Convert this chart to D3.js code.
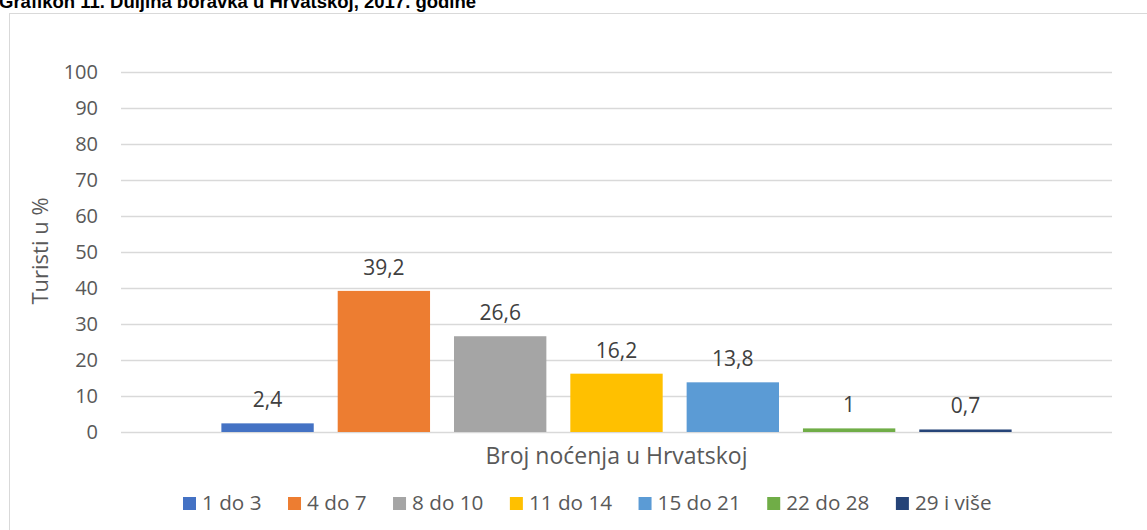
<!DOCTYPE html>
<html>
<head>
<meta charset="utf-8">
<script src="https://cdn.jsdelivr.net/npm/d3@7"></script>
<style>
  html, body { margin: 0; padding: 0; background: #fff; }
  svg { display: block; }
</style>
</head>
<body>
<svg id="chart" width="1147" height="530"></svg>
<script>
const titleText = "Grafikon 11. Duljina boravka u Hrvatskoj, 2017. godine";
const yAxisTitle = "Turisti u %";
const xAxisTitle = "Broj noćenja u Hrvatskoj";
const seriesNames = ["1 do 3", "4 do 7", "8 do 10", "11 do 14", "15 do 21", "22 do 28", "29 i više"];
const seriesValues = [2.4, 39.2, 26.6, 16.2, 13.8, 1, 0.7];
const seriesColors = ["#4472C4", "#ED7D31", "#A5A5A5", "#FFC000", "#5B9BD5", "#70AD47", "#264478"];
const yTicks = [0, 10, 20, 30, 40, 50, 60, 70, 80, 90, 100];

const svg = d3.select("#chart");
const FONT = "'Open Sans', sans-serif";
const plot = { left: 121, right: 1112, top: 72, bottom: 432 };

// chart border
svg.append("rect")
  .attr("x", 9.5).attr("y", 13.5)
  .attr("width", 1160).attr("height", 540)
  .attr("fill", "#fff").attr("stroke", "#d9d9d9").attr("stroke-width", 1);

// title (cut off at top, as in the source)
svg.append("text")
  .attr("x", -1).attr("y", 8)
  .attr("font-family", "'Liberation Sans', Arial, sans-serif")
  .attr("font-weight", "bold").attr("font-size", 18.5)
  .attr("fill", "#000")
  .text(titleText);

const y = d3.scaleLinear().domain([0, 100]).range([plot.bottom, plot.top]);
const x = d3.scaleBand().domain(seriesNames)
  .range([plot.left, plot.right])
  .paddingInner(0.206).paddingOuter(0.863);

// gridlines + tick labels
const yAxis = d3.axisLeft(y).tickValues(yTicks)
  .tickSize(-(plot.right - plot.left)).tickPadding(23)
  .tickFormat(d3.format("d"));
const gy = svg.append("g").attr("transform", `translate(${plot.left},0)`).call(yAxis);
gy.select(".domain").remove();
gy.selectAll(".tick line").attr("stroke", "#d9d9d9").attr("stroke-width", 1.4);
gy.selectAll(".tick text")
  .attr("font-family", FONT).attr("font-size", 20)
  .attr("fill", "#595959");

// bars
svg.append("g").selectAll("rect")
  .data(seriesNames)
  .join("rect")
  .attr("x", d => x(d))
  .attr("width", x.bandwidth())
  .attr("y", (d, i) => y(seriesValues[i]))
  .attr("height", (d, i) => y(0) - y(seriesValues[i]))
  .attr("fill", (d, i) => seriesColors[i]);

// data labels
svg.append("g").selectAll("text")
  .data(seriesNames)
  .join("text")
  .attr("x", d => x(d) + x.bandwidth() / 2)
  .attr("y", (d, i) => y(seriesValues[i]) - 16)
  .attr("text-anchor", "middle")
  .attr("font-family", FONT).attr("font-size", 21)
  .attr("fill", "#404040")
  .text((d, i) => String(seriesValues[i]).replace(".", ","));

// axis titles
svg.append("text")
  .attr("x", (plot.left + plot.right) / 2).attr("y", 464)
  .attr("text-anchor", "middle")
  .attr("font-family", FONT).attr("font-size", 23)
  .attr("fill", "#595959")
  .text(xAxisTitle);

svg.append("text")
  .attr("transform", `translate(48,${251}) rotate(-90)`)
  .attr("text-anchor", "middle")
  .attr("font-family", FONT).attr("font-size", 22)
  .attr("fill", "#595959")
  .text(yAxisTitle);

// legend
const legend = svg.append("g").attr("transform", "translate(183,0)");
let lx = 0;
seriesNames.forEach((name, i) => {
  const g = legend.append("g").attr("transform", `translate(${lx},0)`);
  g.append("rect").attr("x", 0).attr("y", 497).attr("width", 13).attr("height", 13)
    .attr("fill", seriesColors[i]);
  const t = g.append("text").attr("x", 19).attr("y", 510)
    .attr("font-family", FONT).attr("font-size", 20.7)
    .attr("fill", "#595959").text(name);
  lx += 19 + t.node().getComputedTextLength() + 26.5;
});
</script>
</body>
</html>
